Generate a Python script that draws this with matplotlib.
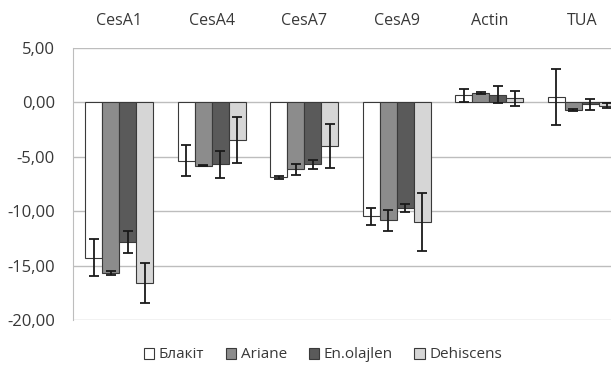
import matplotlib
matplotlib.use('agg')
import matplotlib.pyplot as plt
import numpy as np
from matplotlib.ticker import FuncFormatter

plt.rcParams['font.family'] = ['Open Sans', 'DejaVu Sans']

genes = ['CesA1', 'CesA4', 'CesA7', 'CesA9', 'Actin', 'TUA']
series = ['Блакіт', 'Ariane', 'En.olajlen', 'Dehiscens']
blakit = [-14.3, -5.35, -6.9, -10.45, 0.64, 0.52]
ariane = [-15.7, -5.8, -6.15, -10.85, 0.88, -0.7]
olajlen = [-12.8, -5.7, -5.7, -9.7, 0.7, -0.18]
dehiscens = [-16.6, -3.45, -4.0, -11.0, 0.37, -0.3]
err_blakit = [1.7, 1.45, 0.17, 0.78, 0.6, 2.58]
err_ariane = [0.2, 0.05, 0.5, 0.98, 0.08, 0.05]
err_olajlen = [1.0, 1.25, 0.43, 0.34, 0.8, 0.5]
err_dehiscens = [1.8, 2.15, 2.04, 2.68, 0.69, 0.2]

values = [blakit, ariane, olajlen, dehiscens]
errors = [err_blakit, err_ariane, err_olajlen, err_dehiscens]
colors = ['#ffffff', '#8c8c8c', '#5a5a5a', '#d6d6d6']

fig = plt.figure(figsize=(6.11, 3.66), dpi=100)
ax = fig.add_axes([73/611, 46/366, 555/611, 272/366])

x = np.arange(len(genes))
bw = 0.184
for i, (vals, errs, c, name) in enumerate(zip(values, errors, colors, series)):
    pos = x + (i - 1.5) * bw
    ax.bar(pos, vals, bw, color=c, edgecolor='#3a3a3a', linewidth=0.8,
           label=name, zorder=2)
    ax.errorbar(pos, vals, yerr=errs, fmt='none', ecolor='#1a1a1a',
                elinewidth=1.3, capsize=3.5, capthick=1.3, zorder=3)

ax.set_ylim(-20, 5)
ax.set_xlim(-0.5, 5.5)
ax.set_yticks(np.arange(-20, 6, 5))
ax.yaxis.set_major_formatter(FuncFormatter(lambda v, p: ('%.2f' % v).replace('.', ',')))
ax.grid(axis='y', color='#bdbdbd', linewidth=1.0, zorder=0)
ax.set_axisbelow(True)

ax.xaxis.tick_top()
ax.set_xticks(x)
ax.set_xticklabels(genes)
ax.tick_params(axis='both', length=0, colors='#383838')
ax.tick_params(axis='y', labelsize=12, pad=13)
ax.tick_params(axis='x', labelsize=11.5, pad=14)

for s in ['top', 'right', 'bottom']:
    ax.spines[s].set_visible(False)
ax.spines['left'].set_color('#bdbdbd')

fig.legend(loc='center', bbox_to_anchor=(323/611, 1 - 355/366), ncol=4,
           frameon=False, fontsize=11, handlelength=0.7, handleheight=0.7,
           handletextpad=0.3, columnspacing=1.4, labelcolor='#383838')

fig.savefig('out.png', dpi=100)
